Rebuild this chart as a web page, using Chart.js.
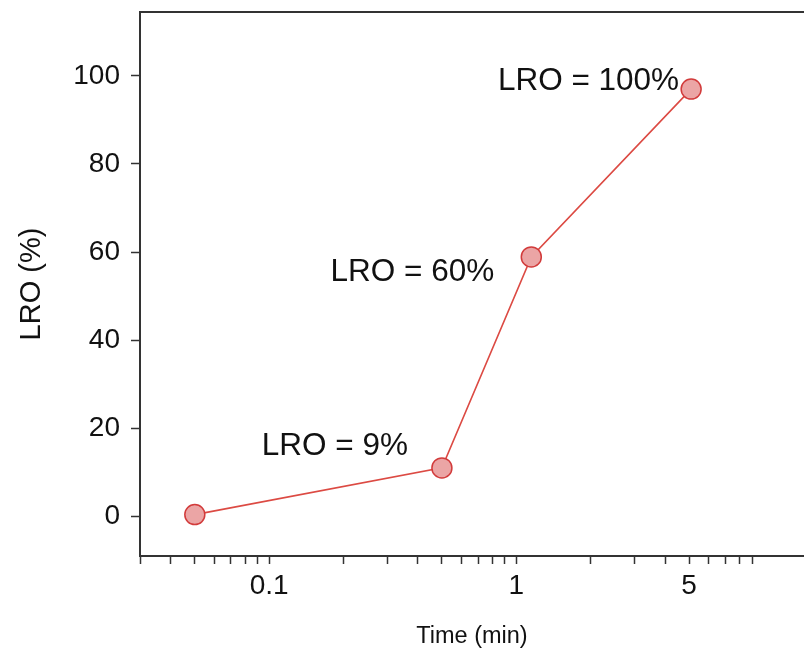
<!DOCTYPE html>
<html>
<head>
<meta charset="utf-8">
<script src="https://cdn.jsdelivr.net/npm/chart.js@4/dist/chart.umd.min.js"></script>
<style>
  html, body { margin: 0; padding: 0; background: #fff; overflow: hidden; }
  canvas { display: block; }
</style>
</head>
<body>
<canvas id="c" width="804" height="651"></canvas>
<script>
// ---- data ----
const timeMin = [0.05, 0.5, 1.15, 5.1];
const lroPct = [0.4, 11, 58.9, 97];
const pointNotes = ['', 'LRO = 9%', 'LRO = 60%', 'LRO = 100%'];
const xTickValues = [0.03, 0.04, 0.05, 0.06, 0.07, 0.08, 0.09, 0.1, 0.2, 0.3, 0.4, 0.5, 0.6, 0.7, 0.8, 0.9, 1, 2, 3, 4, 5, 6, 7, 8, 9];
const xTickLabels = [0.1, 1, 5];
const yTickValues = [0, 20, 40, 60, 80, 100];

// ---- styling ----
const FONT = "'Liberation Sans', Arial, sans-serif";
const INK = '#111';
const AXIS = '#333';
// label offsets (pixels, relative to the point, text right-aligned)
const noteOffsets = [null, {dx: -34, dy: -22}, {dx: -37, dy: 15}, {dx: -12, dy: -8}];

const notePlugin = {
  id: 'notes',
  afterDatasetsDraw(chart) {
    const ctx = chart.ctx;
    const meta = chart.getDatasetMeta(0);
    ctx.save();
    ctx.font = '31.5px ' + FONT;
    ctx.fillStyle = INK;
    ctx.textAlign = 'right';
    ctx.textBaseline = 'middle';
    pointNotes.forEach((t, i) => {
      if (!t) return;
      const p = meta.data[i];
      const o = noteOffsets[i];
      ctx.fillText(t, p.x + o.dx, p.y + o.dy);
    });
    ctx.restore();
  }
};

function noPad(s) {
  s.paddingTop = 0; s.paddingBottom = 0; s.paddingLeft = 0; s.paddingRight = 0;
}

new Chart(document.getElementById('c'), {
  type: 'line',
  data: {
    datasets: [{
      data: timeMin.map((t, i) => ({x: t, y: lroPct[i]})),
      borderColor: '#dc4a43',
      borderWidth: 1.6,
      backgroundColor: '#eba5a5',
      pointBackgroundColor: '#eba5a5',
      pointBorderColor: '#d23b3b',
      pointBorderWidth: 1.5,
      pointRadius: 10,
      tension: 0,
      clip: false
    }]
  },
  options: {
    responsive: false,
    animation: false,
    layout: { autoPadding: false, padding: { top: 12, right: 0, left: 0, bottom: 0 } },
    plugins: { legend: { display: false }, tooltip: { enabled: false } },
    scales: {
      x: {
        type: 'logarithmic',
        position: 'bottom',
        min: 0.03,
        max: 14.6,
        afterBuildTicks: s => { s.ticks = xTickValues.map(v => ({value: v})); },
        afterFit: s => { s.height = 95; noPad(s); },
        ticks: {
          autoSkip: false,
          maxRotation: 0,
          padding: 5,
          color: INK,
          font: { family: FONT, size: 28 },
          callback: v => xTickLabels.includes(v) ? String(v) : ''
        },
        grid: { drawOnChartArea: false, drawTicks: true, tickLength: 8, tickColor: AXIS, tickWidth: 1.5 },
        border: { display: true, color: AXIS, width: 2 },
        title: { display: true, text: 'Time (min)', color: INK, font: { family: FONT, size: 23.5 }, padding: { top: 1, bottom: 0 } }
      },
      xTop: {
        type: 'logarithmic',
        position: 'top',
        min: 0.03,
        max: 14.6,
        ticks: { display: false },
        grid: { display: false, drawTicks: false },
        border: { display: true, color: AXIS, width: 2 },
        afterFit: s => { s.height = 0; noPad(s); }
      },
      y: {
        type: 'linear',
        min: -9,
        max: 114.5,
        afterBuildTicks: s => { s.ticks = yTickValues.map(v => ({value: v})); },
        afterFit: s => { s.width = 140; noPad(s); },
        ticks: {
          padding: 11,
          color: INK,
          font: { family: FONT, size: 28 }
        },
        grid: { drawOnChartArea: false, drawTicks: true, tickLength: 9, tickColor: AXIS, tickWidth: 1.5 },
        border: { display: true, color: AXIS, width: 2 },
        title: { display: true, text: 'LRO (%)', color: INK, font: { family: FONT, size: 29 }, padding: { top: 15, bottom: 0 } }
      }
    }
  },
  plugins: [notePlugin]
});
</script>
</body>
</html>
